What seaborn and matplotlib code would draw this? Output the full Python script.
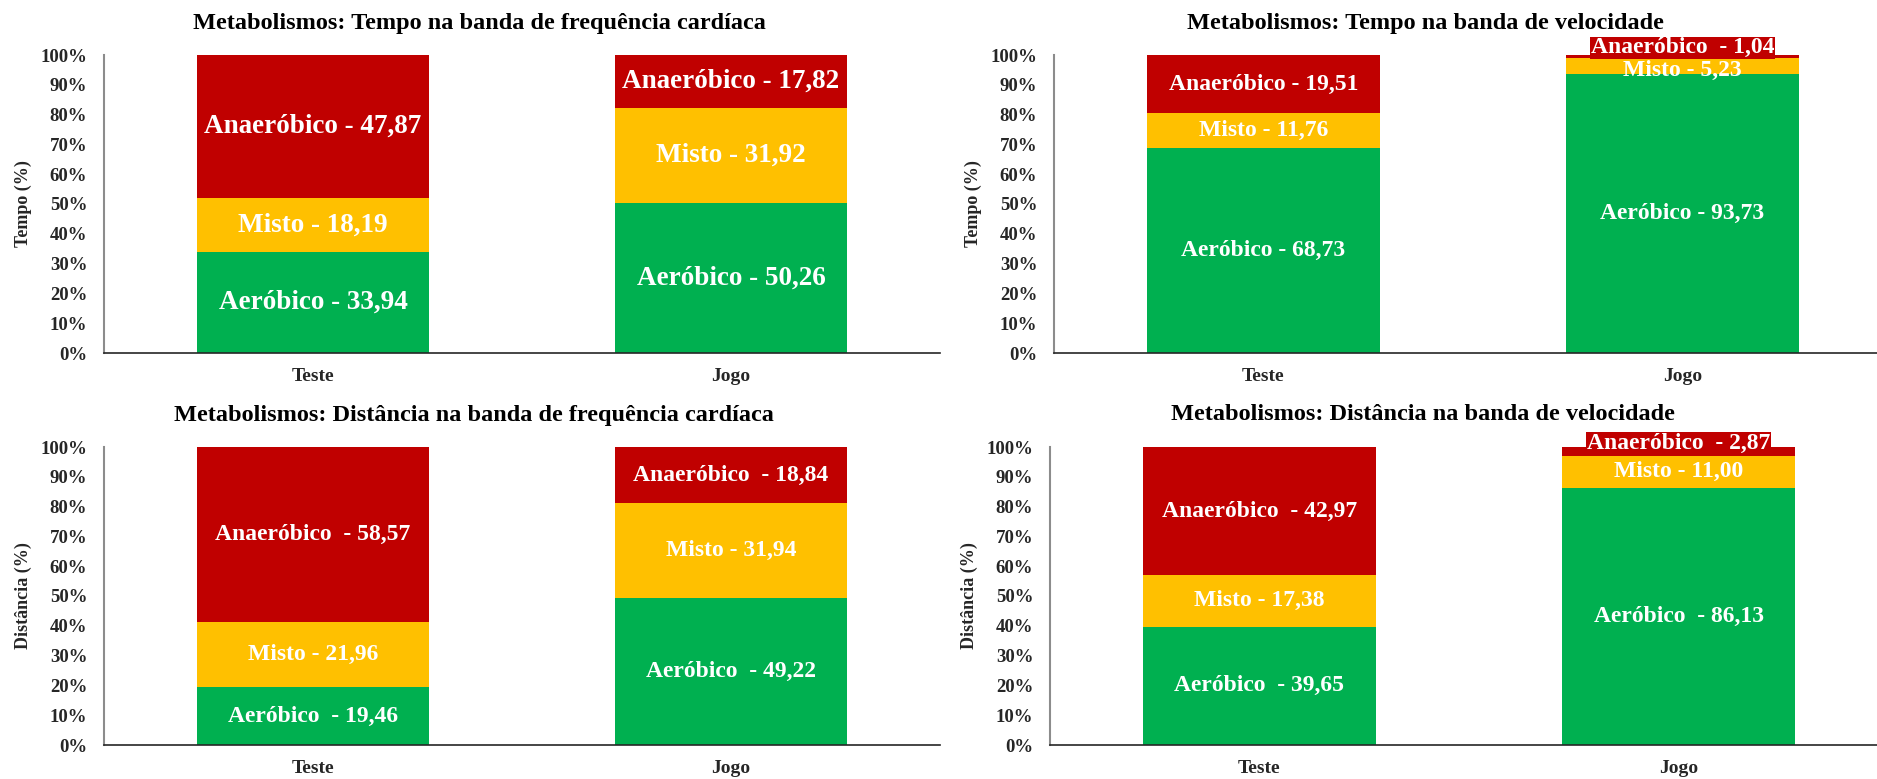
import numpy as np
import pandas as pd
import matplotlib
matplotlib.use("Agg")
import matplotlib.pyplot as plt
from matplotlib.ticker import FixedLocator
import seaborn as sns

# ---------------- data ----------------
categories = ["Teste", "Jogo"]

tl_aer = [33.94, 50.26]
tl_mis = [18.19, 31.92]
tl_ana = [47.87, 17.82]

tr_aer = [68.73, 93.73]
tr_mis = [11.76, 5.23]
tr_ana = [19.51, 1.04]

bl_aer = [19.46, 49.22]
bl_mis = [21.96, 31.94]
bl_ana = [58.57, 18.84]

br_aer = [39.65, 86.13]
br_mis = [17.38, 11.00]
br_ana = [42.97, 2.87]

titles = [
    "Metabolismos: Tempo na banda de frequência cardíaca",
    "Metabolismos: Tempo na banda de velocidade",
    "Metabolismos: Distância na banda de frequência cardíaca",
    "Metabolismos: Distância na banda de velocidade",
]
ylabels = ["Tempo (%)", "Tempo (%)", "Distância (%)", "Distância (%)"]
yticks = [0, 10, 20, 30, 40, 50, 60, 70, 80, 90, 100]
ytick_labels = [f"{v}%" for v in yticks]

# label prefixes per panel: [aer, mis, ana] for each category
prefixes = [
    [["Aeróbico - ", "Misto - ", "Anaeróbico - "], ["Aeróbico - ", "Misto - ", "Anaeróbico - "]],
    [["Aeróbico - ", "Misto - ", "Anaeróbico - "], ["Aeróbico - ", "Misto - ", "Anaeróbico  - "]],
    [["Aeróbico  - ", "Misto - ", "Anaeróbico  - "], ["Aeróbico  - ", "Misto - ", "Anaeróbico  - "]],
    [["Aeróbico  - ", "Misto - ", "Anaeróbico  - "], ["Aeróbico  - ", "Misto - ", "Anaeróbico  - "]],
]

# ---------------- style ----------------
GREEN = "#00B050"
YELLOW = "#FFC000"
RED = "#C00000"

sns.set_style("white")
plt.rcParams["font.family"] = ["Liberation Serif", "DejaVu Serif"]
plt.rcParams["font.weight"] = "bold"

fig = plt.figure(figsize=(18.77, 7.79), dpi=100)
W, H = 1877, 779
rects = [
    (104, 55, 836, 298),
    (1054, 55, 838, 298),
    (104, 447, 836, 298),
    (1050, 447, 838, 298),
]
title_x = [0.449, 0.443, 0.442, 0.445]
label_sizes = [19.5, 17, 17, 17]
small_y = [101.8, 102.4, 101.8, 101.2]
panels = [
    (tl_aer, tl_mis, tl_ana),
    (tr_aer, tr_mis, tr_ana),
    (bl_aer, bl_mis, bl_ana),
    (br_aer, br_mis, br_ana),
]

for k, ((x0, y0, w, h), (aer, mis, ana)) in enumerate(zip(rects, panels)):
    ax = fig.add_axes([x0 / W, (H - y0 - h) / H, w / W, h / H])
    df = pd.DataFrame({"cat": categories, "aer": aer, "mis": mis, "ana": ana})
    df["mid"] = df["aer"] + df["mis"]
    df["top"] = df["mid"] + df["ana"]
    for col, color in [("top", RED), ("mid", YELLOW), ("aer", GREEN)]:
        sns.barplot(data=df, x="cat", y=col, color=color, width=0.557,
                    saturation=1, linewidth=0, errorbar=None, ax=ax)

    ax.set_xlim(-0.5, 1.5)
    ax.set_ylim(0, 100)
    ax.set_yticks(yticks)
    ax.set_yticklabels(ytick_labels)
    ax.set_xlabel("")
    ax.set_ylabel(ylabels[k], fontsize=13, fontweight="bold")
    ax.yaxis.set_label_coords(-72 / w, 0.5)

    for lab in ax.get_yticklabels():
        lab.set_fontweight("bold")
    for lab in ax.get_xticklabels():
        lab.set_fontweight("bold")

    ax.tick_params(axis="y", length=0, pad=12, labelsize=13.5)
    ax.tick_params(axis="x", which="major", length=0, pad=11, labelsize=14)
    ax.xaxis.set_minor_locator(FixedLocator([-0.5, 0.5, 1.5]))
    ax.tick_params(axis="x", which="minor", length=6, width=1.2,
                   color="#8c8c8c", direction="out")

    for s in ["top", "right"]:
        ax.spines[s].set_visible(False)
    ax.spines["left"].set_color("#8c8c8c")
    ax.spines["left"].set_linewidth(1.5)
    ax.spines["bottom"].set_color("#262626")
    ax.spines["bottom"].set_linewidth(1.2)

    ax.text(title_x[k], 1 + 32 / h, titles[k], transform=ax.transAxes,
            ha="center", va="center", fontsize=17.5, fontweight="bold",
            color="black", clip_on=False)

    for i in range(len(categories)):
        segs = [(aer[i], 0), (mis[i], aer[i]), (ana[i], aer[i] + mis[i])]
        for j, (val, base) in enumerate(segs):
            txt = prefixes[k][i][j] + f"{val:.2f}".replace(".", ",")
            if val < 4:
                ax.text(i, small_y[k], txt, ha="center", va="center",
                        fontsize=label_sizes[k], fontweight="bold", color="white",
                        clip_on=False, zorder=5,
                        bbox=dict(facecolor=RED, edgecolor="none", pad=0.5))
            elif val < 7:
                ax.text(i, base + val / 2 - 1.6, txt, ha="center", va="center",
                        fontsize=label_sizes[k], fontweight="bold", color="white",
                        clip_on=False, zorder=6)
            else:
                ax.text(i, base + val / 2, txt, ha="center", va="center",
                        fontsize=label_sizes[k], fontweight="bold", color="white",
                        zorder=6)

fig.savefig("out.png", dpi=100)
